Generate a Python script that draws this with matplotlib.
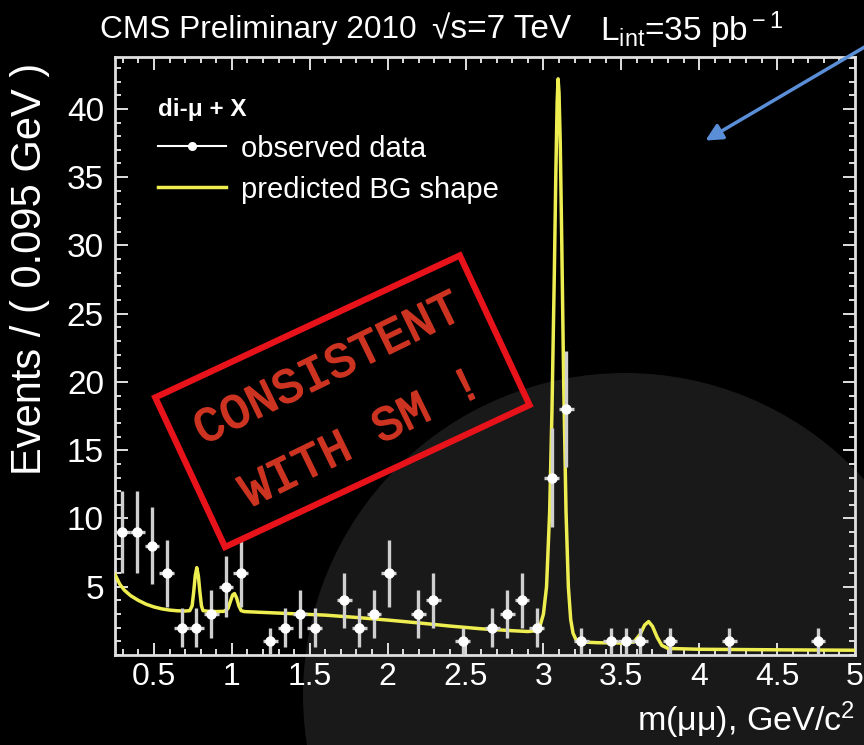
import numpy as np
import matplotlib
matplotlib.use("Agg")
import matplotlib.pyplot as plt
import matplotlib.patheffects as pe
from matplotlib.patches import Circle, Rectangle
from matplotlib.lines import Line2D
from matplotlib.transforms import IdentityTransform
from matplotlib.ticker import MultipleLocator

plt.rcParams['font.family'] = ['Liberation Sans', 'DejaVu Sans']
plt.rcParams['mathtext.fontset'] = 'custom'
plt.rcParams['mathtext.rm'] = 'Liberation Sans'
plt.rcParams['mathtext.it'] = 'Liberation Sans:italic'
plt.rcParams['mathtext.bf'] = 'Liberation Sans:bold'

# di-muon mass spectrum, 50 bins of 0.095 GeV starting at 0.25 GeV
bin_lo = 0.25
bin_width = 0.095
counts = [9, 9, 8, 6, 2, 2, 3, 5, 6, 0,
          1, 2, 3, 2, 0, 4, 2, 3, 6, 0,
          3, 4, 0, 1, 0, 2, 3, 4, 2, 13,
          18, 1, 0, 1, 1, 1, 0, 1, 0, 0,
          0, 1, 0, 0, 0, 0, 0, 1, 0, 0]

# predicted background shape (omega, phi, J/psi, psi' on a falling continuum)
bg_mass = [0.25, 0.28, 0.31, 0.35, 0.40, 0.45, 0.50, 0.55, 0.60, 0.65,
           0.70, 0.73, 0.745, 0.755, 0.765, 0.775, 0.785, 0.795, 0.805, 0.815,
           0.85, 0.90, 0.95, 0.975, 0.99, 1.005, 1.017, 1.03, 1.045, 1.06,
           1.08, 1.2, 1.4, 1.6, 1.8, 2.0, 2.2, 2.4, 2.6, 2.8,
           2.90, 2.95, 2.98, 3.00, 3.02, 3.04, 3.055, 3.07, 3.08, 3.088,
           3.094, 3.10, 3.108, 3.118, 3.13, 3.145, 3.16, 3.175, 3.19, 3.21,
           3.25, 3.35, 3.50, 3.58, 3.62, 3.65, 3.675, 3.70, 3.73, 3.76,
           3.80, 4.0, 4.5, 5.0]
bg_events = [5.9, 5.2, 4.75, 4.35, 4.0, 3.72, 3.52, 3.38, 3.29, 3.24,
             3.22, 3.25, 3.6, 4.6, 5.8, 6.4, 5.8, 4.6, 3.6, 3.25,
             3.2, 3.18, 3.2, 3.4, 3.9, 4.4, 4.5, 4.2, 3.6, 3.25,
             3.18, 3.12, 3.02, 2.92, 2.75, 2.56, 2.35, 2.12, 1.92, 1.78,
             1.72, 1.78, 2.2, 3.0, 5.0, 10.5, 18.0, 28.0, 35.5, 40.5,
             42.2, 41.2, 37.5, 30.0, 20.0, 10.5, 5.0, 2.6, 1.6, 1.1,
             0.95, 0.9, 0.88, 0.95, 1.5, 2.2, 2.45, 2.1, 1.3, 0.7,
             0.48, 0.42, 0.38, 0.35]

counts = np.array(counts, dtype=float)
centers = bin_lo + bin_width * (np.arange(len(counts)) + 0.5)
filled = counts > 0

fig = plt.figure(figsize=(8.64, 7.45), dpi=100, facecolor='black')

# dark grey disc in the slide background
fig.add_artist(Circle((625, 50), 322, transform=IdentityTransform(),
                      facecolor='#191919', edgecolor='none', zorder=-10))

ax = fig.add_axes([0.1331, 0.1208, 0.8565, 0.8027])
ax.set_facecolor('none')

ax.plot(bg_mass, bg_events, color='#eeee50', lw=2.5, zorder=3)
ax.errorbar(centers[filled], counts[filled],
            xerr=bin_width / 2, yerr=np.sqrt(counts[filled]),
            fmt='o', color='white', ms=6.5, ecolor='#cfcfcf',
            elinewidth=2.4, capsize=0, zorder=4)

ax.set_xlim(0.25, 5.0)
ax.set_ylim(0, 43.8)
ax.xaxis.set_major_locator(MultipleLocator(0.5))
ax.xaxis.set_minor_locator(MultipleLocator(0.1))
ax.yaxis.set_major_locator(MultipleLocator(5))
ax.yaxis.set_minor_locator(MultipleLocator(1))
ax.xaxis.set_major_formatter(plt.FuncFormatter(lambda v, p: f'{v:g}'))
ax.set_yticks([5, 10, 15, 20, 25, 30, 35, 40])

for side in ax.spines.values():
    side.set_color('#e0e0e0')
    side.set_linewidth(2)
ax.tick_params(which='both', direction='in', top=True, right=True,
               colors='#e0e0e0', labelcolor='white', width=1.4)
ax.tick_params(which='major', length=9)
ax.tick_params(which='minor', length=4.5)
ax.tick_params(axis='x', pad=5, labelsize=23)
ax.tick_params(axis='y', pad=8, labelsize=24)

ax.set_xlabel(r'm(μμ), GeV/c$^{\rm 2}$', fontsize=24.5, color='white', loc='right')
ax.xaxis.set_label_coords(1.0, -0.074)
ax.set_ylabel('Events / ( 0.095 GeV )', fontsize=30, color='white', loc='top')
ax.yaxis.set_label_coords(-0.088, 0.99)

handles = [Line2D([], [], color='white', lw=1.5, marker='o', ms=5.5),
           Line2D([], [], color='#eeee50', lw=2.5)]
leg = ax.legend(handles, ['observed data', 'predicted BG shape'],
                title='di-μ + X', loc='upper left', bbox_to_anchor=(0.058, 0.932),
                frameon=False, fontsize=21, labelcolor='white',
                handlelength=2.35, handletextpad=0.5, labelspacing=0.45,
                borderpad=0, borderaxespad=0, alignment='left',
                title_fontproperties={'weight': 'bold', 'size': 17.5})
leg.get_title().set_color('white')
leg._legend_box.sep = 10

# header line
fig.text(100 / 864, 1 - 30 / 745, 'CMS Preliminary 2010', fontsize=22.8,
         color='white', va='center', ha='left')
fig.text(432 / 864, 1 - 30 / 745, '√s=7 TeV', fontsize=24,
         color='white', va='center', ha='left')
fig.text(600 / 864, 1 - 30 / 745, r'L$_{\rm int}$=35 pb$^{\rm -1}$', fontsize=24,
         color='white', va='center', ha='left')

# red stamp
stamp_font = dict(family='Liberation Mono', fontsize=35, color='#cc3421',
                  rotation=26, rotation_mode='anchor', ha='center', va='center',
                  zorder=5,
                  path_effects=[pe.withStroke(linewidth=1.2, foreground='#cc3421')])
fig.add_artist(Rectangle((225, 198), 336, 165, angle=25, transform=IdentityTransform(),
                         fill=False, edgecolor='#e8121a', lw=4.5, zorder=5))
fig.text(328 / 864, 375 / 745, 'CONSISTENT', **stamp_font)
fig.text(362 / 864, 306 / 745, 'WITH SM !', **stamp_font)

# pointer arrow entering from the top right
ax.annotate('', xy=(703, 603), xycoords='figure pixels',
            xytext=(885, 710), textcoords='figure pixels',
            arrowprops=dict(arrowstyle='-|>', color='#5a8ed6', lw=2.5,
                            mutation_scale=25),
            annotation_clip=False)

fig.savefig('out.png', dpi=100, facecolor='black')
